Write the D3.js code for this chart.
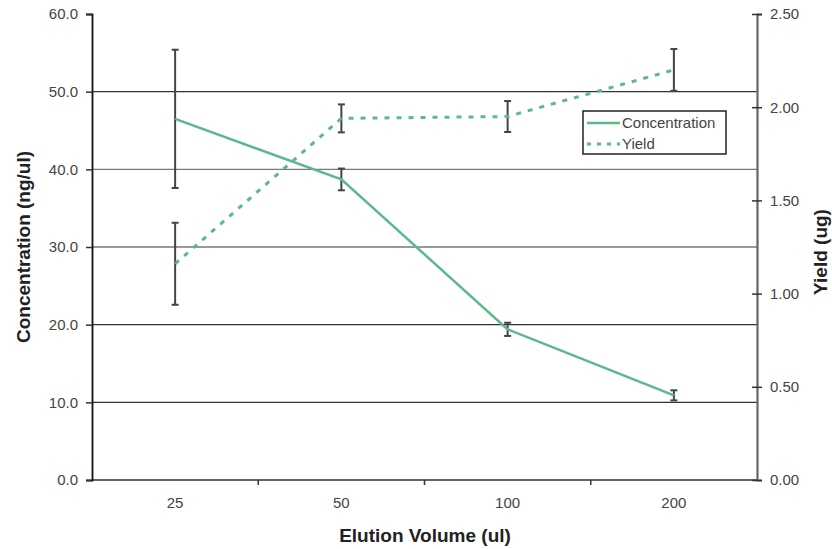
<!DOCTYPE html>
<html>
<head>
<meta charset="utf-8">
<script src="https://cdn.jsdelivr.net/npm/d3@7"></script>
<style>
  body { margin: 0; background: #fff; }
  svg { display: block; font-family: "Liberation Sans", Arial, sans-serif; }
</style>
</head>
<body>
<svg id="chart" width="832" height="549"></svg>
<script>
// Data
const volumes = ["25", "50", "100", "200"];
const concentration = [46.5, 38.7, 19.4, 10.9];
const concErr = [8.9, 1.4, 0.85, 0.65];
const yieldUg = [1.16, 1.94, 1.95, 2.20];
const yieldErr = [0.22, 0.075, 0.083, 0.112];
const leftTicks = [0, 10, 20, 30, 40, 50, 60];
const rightTicks = [0, 0.5, 1.0, 1.5, 2.0, 2.5];
const gridValues = [10, 20, 30, 40, 50];

const svg = d3.select("#chart");
const margin = { top: 14, right: 75, bottom: 69, left: 92 };
const width = 832 - margin.left - margin.right;
const height = 549 - margin.top - margin.bottom;
const green = "#5bb98b";
const fontFam = "'Liberation Sans', Arial, sans-serif";

const g = svg.append("g").attr("transform", `translate(${margin.left},${margin.top})`);

const x = d3.scaleBand().domain(volumes).range([0, width]);
const yL = d3.scaleLinear().domain([0, 60]).range([height, 0]);
const yR = d3.scaleLinear().domain([0, 2.5]).range([height, 0]);
const cx = d => x(d) + x.bandwidth() / 2;

// Gridlines
g.append("g")
    .selectAll("line")
    .data(gridValues)
    .join("line")
    .attr("x1", 0).attr("x2", width)
    .attr("y1", d => yL(d)).attr("y2", d => yL(d))
    .attr("stroke", d => (d === 30 || d === 40) ? "#777" : "#333")
    .attr("stroke-width", 1.4);

// Bottom axis (ticks at band edges)
const bottom = g.append("g").attr("transform", `translate(0,${height})`);
bottom.append("line")
    .attr("x1", 0).attr("x2", width)
    .attr("stroke", "#666").attr("stroke-width", 2);
bottom.selectAll(".edge")
    .data(volumes.slice(1))
    .join("line")
    .attr("x1", d => x(d)).attr("x2", d => x(d))
    .attr("y1", 0).attr("y2", 5)
    .attr("stroke", "#333").attr("stroke-width", 1.5);
bottom.selectAll("text")
    .data(volumes)
    .join("text")
    .attr("x", d => cx(d))
    .attr("y", 28)
    .attr("text-anchor", "middle")
    .attr("font-size", 15)
    .attr("fill", "#444")
    .text(d => d);

// Left axis
const left = g.append("g")
    .call(d3.axisLeft(yL).tickValues(leftTicks).tickFormat(d3.format(".1f")).tickSize(6).tickPadding(8));
left.select(".domain").attr("stroke", "#111").attr("stroke-width", 1.8);
left.selectAll(".tick line").attr("stroke", "#333").attr("stroke-width", 1.5);
left.selectAll(".tick text").attr("font-size", 15).attr("fill", "#444").style("font-family", fontFam);

// Right axis (ticks cross the line)
const right = g.append("g")
    .attr("transform", `translate(${width},0)`)
    .call(d3.axisRight(yR).tickValues(rightTicks).tickFormat(d3.format(".2f")).tickSize(5).tickPadding(8));
right.select(".domain").attr("stroke", "#666").attr("stroke-width", 2.2);
right.selectAll(".tick line").attr("x1", -5).attr("stroke", "#333").attr("stroke-width", 1.5);
right.selectAll(".tick text").attr("font-size", 15).attr("fill", "#444").style("font-family", fontFam);

// Error bars
function errorBars(vals, errs, y) {
    const eb = g.append("g").attr("stroke", "#444").attr("stroke-width", 2);
    volumes.forEach((v, i) => {
        const top = y(vals[i] + errs[i]);
        const bot = y(vals[i] - errs[i]);
        eb.append("line").attr("x1", cx(v)).attr("x2", cx(v)).attr("y1", top).attr("y2", bot);
        eb.append("line").attr("x1", cx(v) - 3.5).attr("x2", cx(v) + 3.5).attr("y1", top).attr("y2", top);
        eb.append("line").attr("x1", cx(v) - 3.5).attr("x2", cx(v) + 3.5).attr("y1", bot).attr("y2", bot);
    });
}
errorBars(concentration, concErr, yL);
errorBars(yieldUg, yieldErr, yR);

// Lines
g.append("path")
    .datum(concentration)
    .attr("fill", "none")
    .attr("stroke", green)
    .attr("stroke-width", 2.5)
    .attr("d", d3.line().x((d, i) => cx(volumes[i])).y(d => yL(d)));

g.append("path")
    .datum(yieldUg)
    .attr("fill", "none")
    .attr("stroke", green)
    .attr("stroke-width", 3)
    .attr("stroke-dasharray", "5,7")
    .attr("d", d3.line().x((d, i) => cx(volumes[i])).y(d => yR(d)));

// Legend
const legend = svg.append("g").attr("transform", "translate(583,111)");
legend.append("rect")
    .attr("width", 143).attr("height", 43)
    .attr("fill", "#fff").attr("stroke", "#222").attr("stroke-width", 1.5);
const items = [
    { label: "Concentration", dash: null, w: 2.5 },
    { label: "Yield", dash: "4,6", w: 3 }
];
items.forEach((it, i) => {
    const yy = 12 + i * 21;
    legend.append("line")
        .attr("x1", 4).attr("x2", 37).attr("y1", yy).attr("y2", yy)
        .attr("stroke", green).attr("stroke-width", it.w)
        .attr("stroke-dasharray", it.dash);
    legend.append("text")
        .attr("x", 39).attr("y", yy + 5)
        .attr("font-size", 15).attr("fill", "#444")
        .text(it.label);
});

// Axis titles
svg.append("text")
    .attr("transform", "translate(30,247) rotate(-90)")
    .attr("text-anchor", "middle")
    .attr("font-size", 19).attr("font-weight", "bold").attr("fill", "#222")
    .text("Concentration (ng/ul)");
svg.append("text")
    .attr("transform", "translate(827,252) rotate(-90)")
    .attr("text-anchor", "middle")
    .attr("font-size", 19).attr("font-weight", "bold").attr("fill", "#222")
    .text("Yield (ug)");
svg.append("text")
    .attr("x", 425).attr("y", 542)
    .attr("text-anchor", "middle")
    .attr("font-size", 19).attr("font-weight", "bold").attr("fill", "#222")
    .text("Elution Volume (ul)");
</script>
</body>
</html>
